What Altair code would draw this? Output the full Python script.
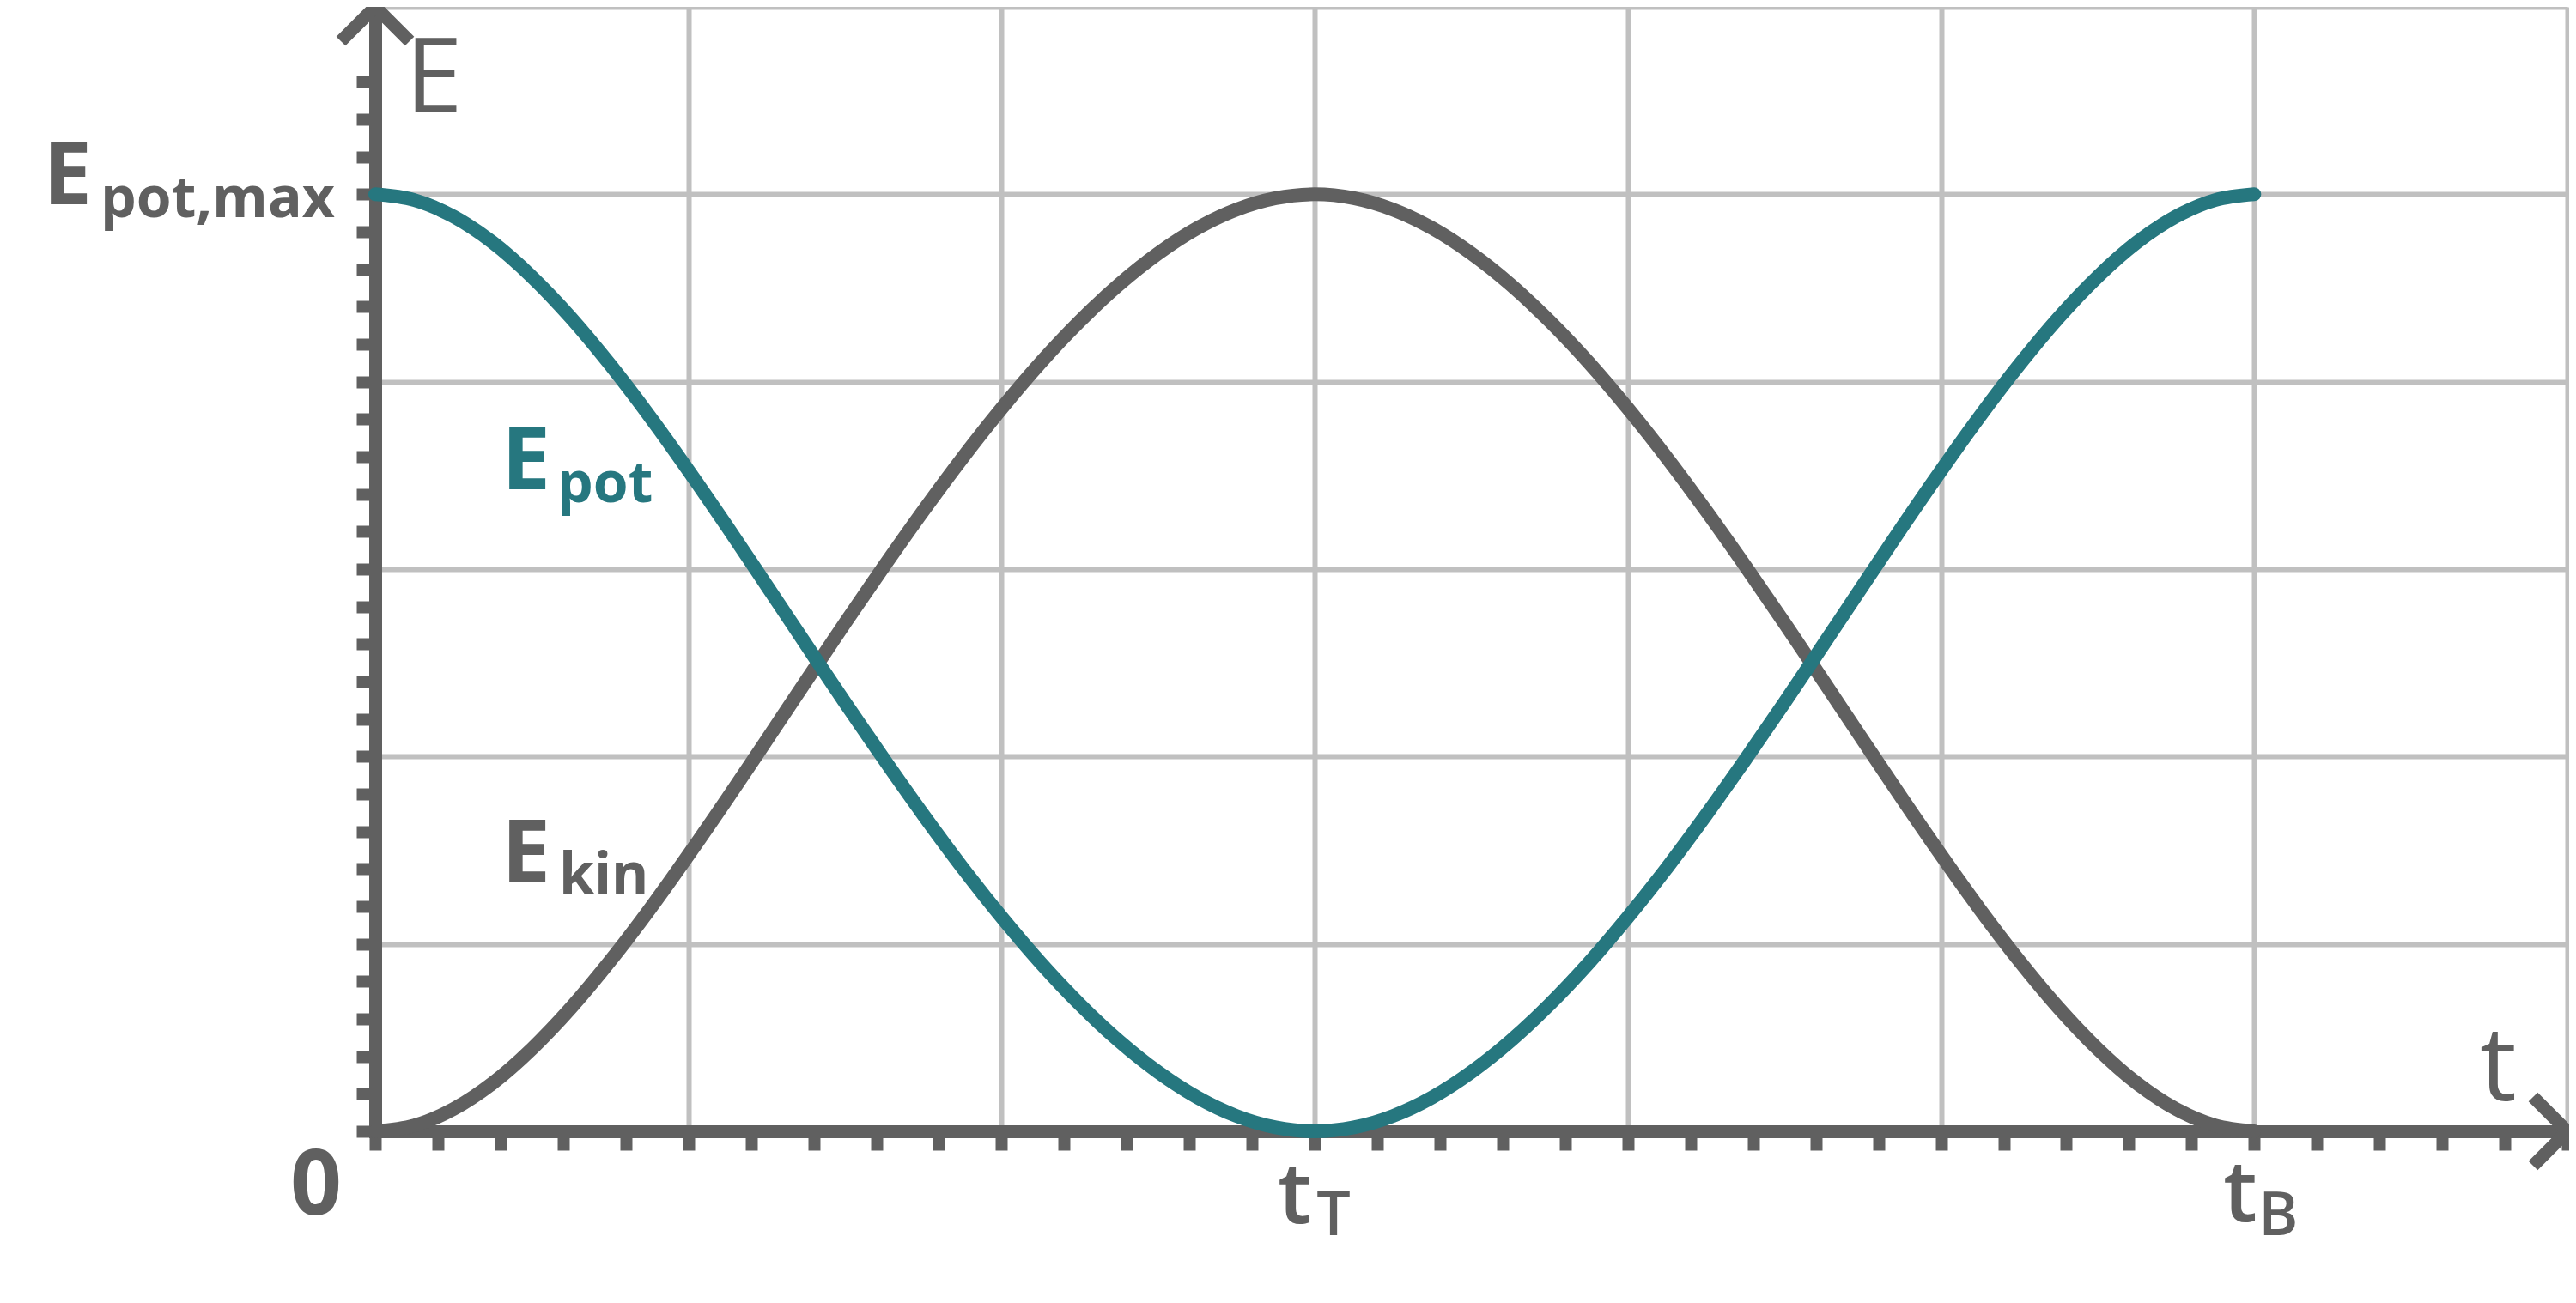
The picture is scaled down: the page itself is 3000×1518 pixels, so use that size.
import altair as alt
import pandas as pd

GRAU = "#606060"
PETROL = "#26777f"
GITTER = "#c0c0c0"
FONT = "Open Sans"

# Zeitpunkte (Einheiten: Gitterkästchen, t_T = 3, t_B = 6)
T = [0, 0.125, 0.25, 0.375, 0.5, 0.625, 0.75, 0.875, 1, 1.125, 1.25, 1.375,
     1.5, 1.625, 1.75, 1.875, 2, 2.125, 2.25, 2.375, 2.5, 2.625, 2.75, 2.875,
     3, 3.125, 3.25, 3.375, 3.5, 3.625, 3.75, 3.875, 4, 4.125, 4.25, 4.375,
     4.5, 4.625, 4.75, 4.875, 5, 5.125, 5.25, 5.375, 5.5, 5.625, 5.75, 5.875, 6]
E_POT = [5.000, 4.969, 4.881, 4.743, 4.560, 4.341, 4.091, 3.818, 3.526, 3.223, 2.912, 2.599,
         2.288, 1.984, 1.689, 1.407, 1.143, 0.898, 0.677, 0.482, 0.316, 0.181, 0.082, 0.021,
         0.000, 0.021, 0.082, 0.181, 0.316, 0.482, 0.677, 0.898, 1.143, 1.407, 1.689, 1.984,
         2.288, 2.599, 2.912, 3.223, 3.526, 3.818, 4.091, 4.341, 4.560, 4.743, 4.881, 4.969, 5.000]
E_KIN = [0.000, 0.031, 0.119, 0.257, 0.440, 0.659, 0.909, 1.182, 1.474, 1.777, 2.088, 2.401,
         2.712, 3.016, 3.311, 3.593, 3.857, 4.102, 4.323, 4.518, 4.684, 4.819, 4.918, 4.979,
         5.000, 4.979, 4.918, 4.819, 4.684, 4.518, 4.323, 4.102, 3.857, 3.593, 3.311, 3.016,
         2.712, 2.401, 2.088, 1.777, 1.474, 1.182, 0.909, 0.659, 0.440, 0.257, 0.119, 0.031, 0.000]

X_TICKS = [round(0.2 * i, 1) for i in range(36)]          # 0 .. 7
Y_TICKS = [round(0.2 * i, 1) for i in range(29)] + [6]    # 0 .. 5.6, 6

XS = alt.Scale(domain=[0, 7], nice=False, zero=False)
YS = alt.Scale(domain=[0, 6], nice=False, zero=False)

nur_ganze = {"condition": {"test": "datum.value % 1 === 0 && datum.value > 0", "value": 1}, "value": 0}

achse_x = alt.Axis(
    values=X_TICKS, labels=False, title=None,
    domainColor=GRAU, domainWidth=15, domainCap="square",
    tickColor=GRAU, tickWidth=14, tickSize=22,
    gridColor=GITTER, gridWidth=6, gridOpacity=nur_ganze,
)
achse_y = alt.Axis(
    values=Y_TICKS, labels=False, title=None,
    domainColor=GRAU, domainWidth=15, domainCap="square",
    tickColor=GRAU, tickWidth=14, tickSize=22,
    tickOpacity={"condition": {"test": "datum.value > 5.7", "value": 0}, "value": 1},
    gridColor=GITTER, gridWidth=6, gridOpacity=nur_ganze,
)


def xy():
    return dict(
        x=alt.X("t:Q", scale=XS, axis=achse_x),
        y=alt.Y("E:Q", scale=YS, axis=achse_y),
    )


def kurve(werte, farbe):
    df = pd.DataFrame({"t": T, "E": werte})
    return alt.Chart(df).mark_line(
        interpolate="monotone", strokeWidth=16, strokeCap="round", color=farbe
    ).encode(**xy())


def pfeil(t, e, form):
    return alt.Chart(pd.DataFrame({"t": [t], "E": [e]})).mark_point(
        shape=form, size=6400, filled=False, color=GRAU, opacity=1,
        strokeWidth=15, strokeJoin="bevel", strokeCap="butt",
    ).encode(**xy())


def text(s, t, e, dx, dy, groesse, farbe=GRAU, gewicht="bold", align="left"):
    return alt.Chart(pd.DataFrame({"s": [s], "t": [t], "E": [e]})).mark_text(
        font=FONT, fontSize=groesse, fontWeight=gewicht, color=farbe,
        align=align, baseline="alphabetic", dx=dx, dy=dy,
    ).encode(text="s:N", **xy())


beschriftung = [
    text("E", 0, 6, 35, 123, 120, gewicht="normal"),
    text("t", 7, 0, -102, -36, 120, gewicht="normal"),
    text("E", 0, 5, -387, 12, 102),
    text("pot,max", 0, 5, -320, 27, 66),
    text("E", 0, 3, 147, -93, 102, farbe=PETROL),
    text("pot", 0, 3, 212, -78, 66, farbe=PETROL),
    text("E", 0, 1, 147, -72, 102),
    text("kin", 0, 1, 214, -59, 66),
    text("0", 0, 0, -69, 97, 105, align="center"),
    text("t", 3, 0, -43, 107, 100, gewicht=600),
    text("T", 3, 0, 2, 121, 70, gewicht=600),
    text("t", 6, 0, -36, 105, 100, gewicht=600),
    text("B", 6, 0, 5, 121, 70, gewicht=600),
]

chart = alt.layer(
    kurve(E_KIN, GRAU),
    kurve(E_POT, PETROL),
    pfeil(7, 0, "M-1,-1L0,0L-1,1"),
    pfeil(0, 6, "M-1,1L0,0L1,1"),
    *beschriftung,
).properties(
    width=2553,
    height=1310,
    padding={"left": 429, "top": 0, "right": 2, "bottom": 180},
    autosize=alt.AutoSizeParams(type="none"),
).configure_view(strokeWidth=0)

chart.save("out.html", embed_options={"renderer": "svg", "actions": False})
